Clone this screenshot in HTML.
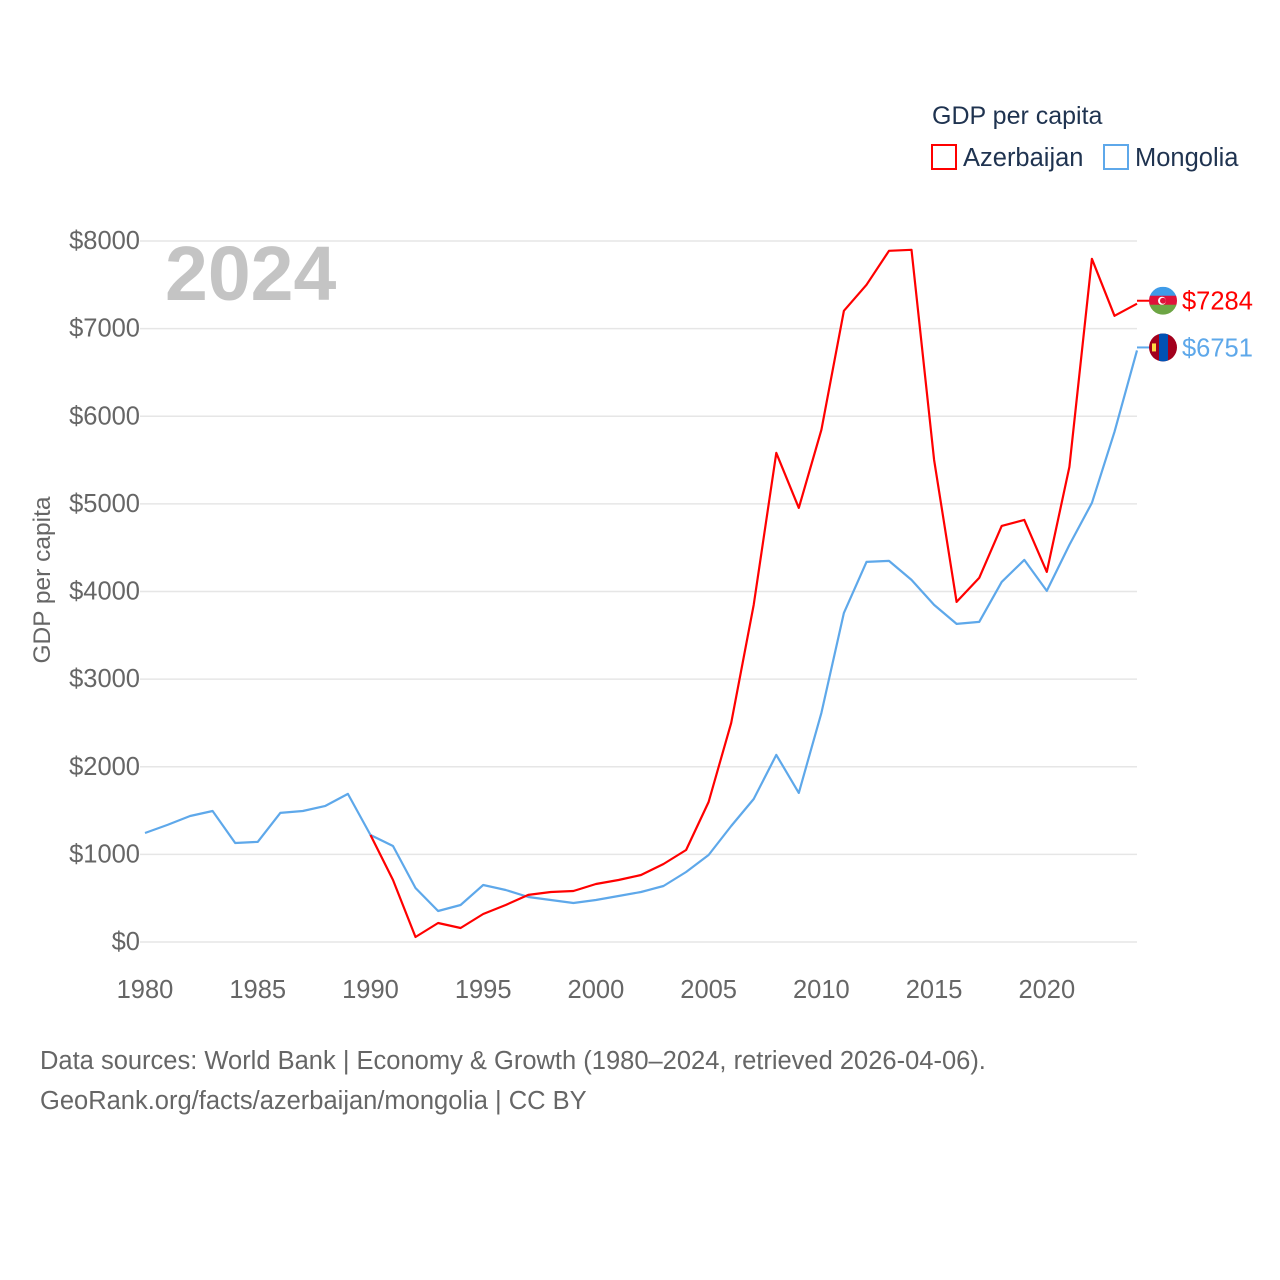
<!DOCTYPE html>
<html><head><meta charset="utf-8"><style>
body{margin:0;background:#fff;font-family:"Liberation Sans",sans-serif}
</style></head><body>
<svg id="chart" width="1280" height="1280" xmlns="http://www.w3.org/2000/svg" style="display:block">
<g id="grid"></g>
<g id="yticks"></g>
<g id="xticks"></g>
<g id="lines"></g>
<text x="165" y="300" font-size="77" font-weight="bold" fill="#c4c4c4">2024</text>
<text transform="translate(50,580) rotate(-90)" text-anchor="middle" font-size="24.5" fill="#666">GDP per capita</text>
<text x="932" y="124" font-size="25" fill="#1f3350">GDP per capita</text>
<g><rect x="932" y="145" width="24" height="24" fill="none" stroke="#f00" stroke-width="2"/><text x="963" y="166" font-size="25.5" fill="#1f3350">Azerbaijan</text></g>
<g><rect x="1104" y="145" width="24" height="24" fill="none" stroke="#5ea8ea" stroke-width="2"/><text x="1135" y="166" font-size="25.5" fill="#1f3350">Mongolia</text></g>
<g id="ends"></g>
<text x="40" y="1069" font-size="25.5" fill="#666">Data sources: World Bank | Economy &amp; Growth (1980–2024, retrieved 2026-04-06).</text>
<text x="40" y="1109" font-size="25.5" fill="#666">GeoRank.org/facts/azerbaijan/mongolia | CC BY</text>
</svg>
<script>
const years=[];for(let y=1980;y<=2024;y++)years.push(y);
const mongolia=[1244,1336,1438,1495,1130,1142,1473,1495,1553,1690,1221,1096,616,354,422,651,594,514,479,445,479,525,571,639,799,993,1324,1632,2135,1701,2614,3756,4338,4349,4132,3847,3630,3653,4110,4361,4007,4532,5011,5822,6751];
const azerbaijan=[null,null,null,null,null,null,null,null,null,null,1221,708,57,217,160,320,422,537,571,582,662,708,765,890,1050,1598,2500,3847,5582,4954,5845,7203,7500,7888,7900,5502,3881,4155,4749,4817,4224,5422,7797,7146,7284];
const yTicks=[0,1000,2000,3000,4000,5000,6000,7000,8000];
const xTicks=[1980,1985,1990,1995,2000,2005,2010,2015,2020];
const NS="http://www.w3.org/2000/svg";
const X=y=>145+(y-1980)*(1137-145)/44;
const Y=v=>942-v*(942-241)/8000;
function el(t,a,p){const e=document.createElementNS(NS,t);for(const k in a)e.setAttribute(k,a[k]);document.getElementById(p).appendChild(e);return e;}
yTicks.forEach(v=>{
 const g=el('line',{x1:140,x2:1137,y1:Y(v),y2:Y(v),stroke:'#e6e6e6','stroke-width':1.5},'grid');
 
 
 const t=el('text',{x:140,y:Y(v)+8,'text-anchor':'end','font-size':25.5,fill:'#666'},'yticks');
 t.textContent='$'+v;
 
 
});
xTicks.forEach(v=>{
 const t=el('text',{x:X(v),y:998,'text-anchor':'middle','font-size':25.5,fill:'#666'},'xticks');
 t.textContent=v;
 
 
});
function path(vals,color,name){
 let d='';vals.forEach((v,i)=>{if(v==null)return;d+=(d?'L':'M')+X(years[i]).toFixed(1)+','+Y(v).toFixed(1);});
 const p=el('path',{d:d,fill:'none',stroke:color,'stroke-width':2.2,'stroke-linejoin':'round'},'lines');
 
 
}
path(mongolia,'#5ea8ea','line-mongolia');
path(azerbaijan,'#f00','line-azerbaijan');
function endLabel(vals,color,name,flag){
 const v=vals[vals.length-1],yy=Y(v)-3;
 el('line',{x1:1137,x2:1150,y1:yy,y2:yy,stroke:color,'stroke-width':2},'ends');
 const c=el('g',{},'ends');
 c.innerHTML=flag(1163,yy);
 const t=el('text',{x:1182,y:yy+9,'font-size':25.5,fill:color},'ends');
 t.textContent='$'+v;
 
 
}
endLabel(azerbaijan,'#f00','azerbaijan',(x,y)=>`<clipPath id="ca"><circle cx="${x}" cy="${y}" r="14"/></clipPath><g clip-path="url(#ca)"><rect x="${x-14}" y="${y-14}" width="28" height="10" fill="#3f9be8"/><rect x="${x-14}" y="${y-5}" width="28" height="10" fill="#e0113a"/><rect x="${x-14}" y="${y+4}" width="28" height="10" fill="#6da544"/><circle cx="${x-1}" cy="${y}" r="4" fill="#fff"/><circle cx="${x}" cy="${y}" r="3" fill="#e0113a"/></g>`);
endLabel(mongolia,'#5ea8ea','mongolia',(x,y)=>`<clipPath id="cm"><circle cx="${x}" cy="${y}" r="14"/></clipPath><g clip-path="url(#cm)"><rect x="${x-14}" y="${y-14}" width="28" height="28" fill="#a2001d"/><rect x="${x-4}" y="${y-14}" width="9" height="28" fill="#0052b4"/><rect x="${x-11}" y="${y-4}" width="4" height="8" fill="#ffda44"/></g>`);
</script>
</body></html>
